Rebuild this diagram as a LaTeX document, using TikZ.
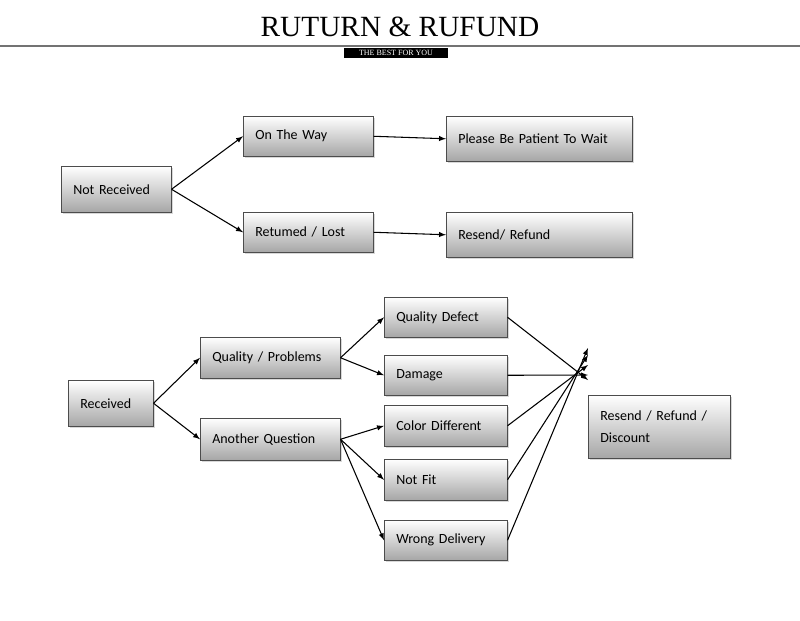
\documentclass[tikz,border=0pt]{standalone}
\usepackage{fontspec}
\setmainfont{Carlito}
\newfontfamily\titlefont{Liberation Serif}
\usetikzlibrary{shadows}

\tikzset{
  flowbox/.style={draw=black!70, rectangle, anchor=north west, top color=white, bottom color=black!35,
    drop shadow={shadow xshift=1.5pt, shadow yshift=-1.5pt, fill=black!30},
    font=\fontsize{10.5}{12}\selectfont, align=left, inner xsep=9pt},
  link/.style={-latex, thick, black}
}
% name, x, y, width, height, text
\newcommand{\flowbox}[6]{\node[flowbox, minimum width=#4*0.75pt, minimum height=#5*0.75pt,
  text width=#4*0.75pt-18pt] (#1) at (#2,#3) {#6};}

\begin{document}
\begin{tikzpicture}[x=0.75pt,y=0.75pt,yscale=-1,xscale=1]
		\useasboundingbox (0,0) rectangle (800,621);
		\node[font=\titlefont\fontsize{22}{24}\selectfont] (title) at (400,27) {RUTURN \& RUFUND};
		\draw[black!55, line width=2.2pt] (0,46) -- (800,46);
		\node[fill=black, text=white, minimum width=78pt, minimum height=8pt, inner sep=0pt,
		  font=\titlefont\fontsize{6}{6}\selectfont] (motto) at (396,53) {THE BEST FOR YOU};

		\flowbox{notrec}{61}{166}{110}{46}{Not Received}
		\flowbox{way}{243}{116}{130}{40}{On The Way}
		\flowbox{lost}{243}{212}{130}{40}{Retumed / Lost}
		\flowbox{wait}{446}{116}{186}{45}{Please Be Patient To Wait}
		\flowbox{resend}{446}{212}{186}{45}{Resend/ Refund}

		\flowbox{rec}{68}{380}{85}{46}{Received}
		\flowbox{qual}{200}{337}{140}{41}{Quality / Problems}
		\flowbox{other}{200}{418}{140}{42}{Another Question}
		\flowbox{defect}{384}{297}{123}{40}{Quality Defect}
		\flowbox{damage}{384}{355}{123}{40}{Damage}
		\flowbox{color}{384}{405}{123}{41}{Color Different}
		\flowbox{fit}{384}{459}{123}{41}{Not Fit}
		\flowbox{wrong}{384}{520}{123}{40}{Wrong Delivery}
		\flowbox{final}{588}{395}{142}{63}{Resend / Refund /\\[4pt]Discount}

		\draw[link] (notrec.east) -- (way.west);
		\draw[link] (notrec.east) -- (lost.west);
		\draw[link] (way.east) -- (wait.west);
		\draw[link] (lost.east) -- (resend.west);

		\draw[link] (rec.east) -- (qual.west);
		\draw[link] (rec.east) -- (other.west);
		\draw[link] (qual.east) -- (defect.west);
		\draw[link] (qual.east) -- (damage.west);
		\draw[link] (other.east) -- (color.west);
		\draw[link] (other.east) -- (fit.west);
		\draw[link] (other.east) -- (wrong.west);
		\draw[link] (defect.east) -- ([yshift=-15*0.75pt]final.north west);
		\draw[link] (damage.east) -- ([yshift=-20*0.75pt]final.north west);
		\draw[link] (color.east) -- ([yshift=-30*0.75pt]final.north west);
		\draw[link] (fit.east) -- ([yshift=-40*0.75pt]final.north west);
		\draw[link] (wrong.east) -- ([yshift=-47*0.75pt]final.north west);
	\end{tikzpicture}
\end{document}
